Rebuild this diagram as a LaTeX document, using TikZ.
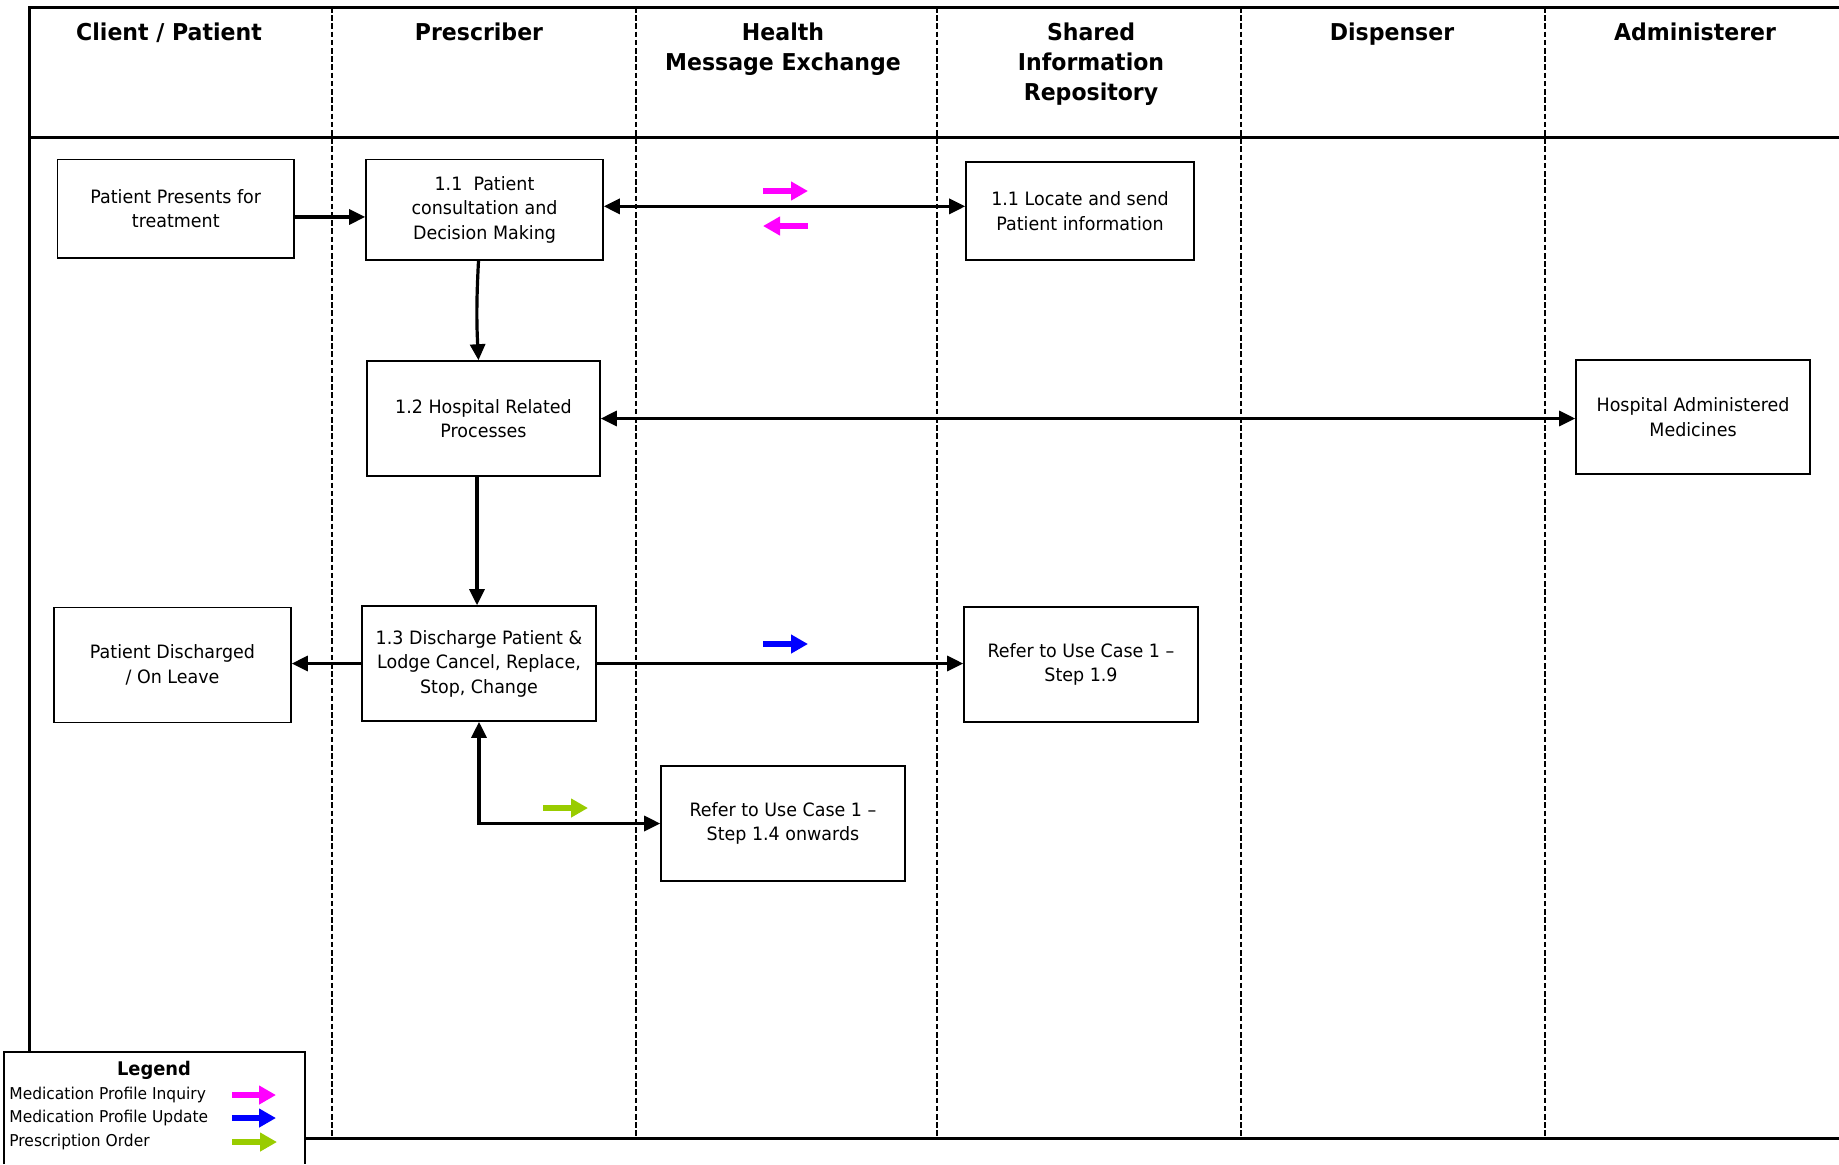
\documentclass[tikz,border=0pt]{standalone}
\usepackage{fontspec}
\setmainfont{DejaVu Sans}[FakeStretch=0.95]
\usetikzlibrary{arrows.meta}
\definecolor{pinkm}{RGB}{255,0,255}
\definecolor{blueu}{RGB}{0,0,255}
\definecolor{greeno}{RGB}{153,204,0}
\tikzset{
  box/.style={draw, line width=0.8pt, inner sep=0pt, align=center, font=\fontsize{9.2}{12.25}\selectfont},
  conn/.style={line width=1.6pt},
  lane/.style={line width=1.35pt, dash pattern=on 2.8pt off 1.3pt},
  frame/.style={line width=1.5pt},
  head/.style={anchor=north, inner sep=0pt, align=center, font=\fontsize{11.6}{15}\selectfont\bfseries},
  flow/.style={line width=3.2pt, -{Triangle[length=8.5pt,width=9pt]}},
  legtext/.style={anchor=west, inner sep=0pt, font=\fontsize{8.15}{10}\selectfont},
  >={Triangle[length=8pt,width=7.5pt]}
}
\begin{document}
\begin{tikzpicture}[x=0.5pt,y=-0.5pt]
\useasboundingbox (0,0) rectangle (1839,1164);
% frame
\draw[frame] (29,1052) -- (29,7) -- (1839,7);
\draw[frame] (29,137) -- (1839,137);
\draw[frame] (305,1138) -- (1839,1138);
\foreach \x in {332,636,937,1241,1545} \draw[lane] (\x,7) -- (\x,1138);
% headers
\node[head] (hc) at (169,22) {Client / Patient};
\node[head] (hp) at (479,22) {Prescriber};
\node[head] (hh) at (783,22) {Health\\Message Exchange};
\node[head] (hs) at (1091,22) {Shared\\Information\\Repository};
\node[head] (hd) at (1392,22) {Dispenser};
\node[head] (ha) at (1695,22) {Administerer};
% boxes
\node[box, minimum width=118.25pt, minimum height=49.25pt] (b1) at (175.75,208.75) {Patient Presents for\\treatment};
\node[box, minimum width=118.5pt, minimum height=50.25pt] (b11) at (484.5,209.75) {1.1~ Patient\\consultation and\\Decision Making};
\node[box, minimum width=116.5pt, minimum height=57.5pt] (b12) at (483.5,418.5) {1.2 Hospital Related\\Processes};
\node[box, minimum width=114pt, minimum height=49pt] (b11r) at (1080,211) {1.1 Locate and send\\Patient information};
\node[box, minimum width=117pt, minimum height=57pt] (bham) at (1693,417) {Hospital Administered\\Medicines};
\node[box, minimum width=118.5pt, minimum height=57.5pt] (bpd) at (172.5,665) {Patient Discharged\\/ On Leave};
\node[box, minimum width=117pt, minimum height=57.5pt] (b13) at (479,663.5) {1.3 Discharge Patient \&\\Lodge Cancel, Replace,\\Stop, Change};
\node[box, minimum width=117pt, minimum height=57.5pt] (b19) at (1081,664.5) {Refer to Use Case 1 –\\Step 1.9};
\node[box, minimum width=122pt, minimum height=57.5pt] (b14) at (783,823.5) {Refer to Use Case 1 –\\Step 1.4 onwards};
% connectors
\draw[conn,->] ([yshift=-4.1pt]b1.east) -- ([yshift=-4.1pt]b1.east -| b11.west);
\draw[conn,<->] ([yshift=1.7pt]b11.east) -- ([yshift=1.7pt]b11.east -| b11r.west);
\draw[conn,->] ([xshift=-3pt]b11.south) to[bend right=3] ([xshift=-3pt]b11.south |- b12.north);
\draw[conn,<->] (b12.east) -- (b12.east -| bham.west);
\draw[conn,->] ([xshift=-3.25pt]b12.south) -- ([xshift=-3.25pt]b12.south |- b13.north);
\draw[conn,->] (b13.west) -- (b13.west -| bpd.east);
\draw[conn,->] (b13.east) -- (b13.east -| b19.west);
\draw[conn,<->] (b13.south) |- (b14.west);
% flow markers
\draw[flow, pinkm] (763,191) -- (808,191);
\draw[flow, pinkm] (808,226) -- (763,226);
\draw[flow, blueu] (763,644) -- (808,644);
\draw[flow, greeno] (543,808) -- (588,808);
% legend
\draw[line width=0.9pt] (4,1164) -- (4,1052) -- (305,1052) -- (305,1164);
\node[inner sep=0pt, font=\fontsize{9.4}{11}\selectfont\bfseries] (lg) at (154,1070) {Legend};
\node[legtext] (l1) at (9,1095) {Medication Profile Inquiry};
\node[legtext] (l2) at (9,1118) {Medication Profile Update};
\node[legtext] (l3) at (9,1142) {Prescription Order};
\draw[flow, pinkm] (232,1095) -- (276,1095);
\draw[flow, blueu] (232,1118) -- (276,1118);
\draw[flow, greeno] (232,1142) -- (277,1142);
\end{tikzpicture}
\end{document}
